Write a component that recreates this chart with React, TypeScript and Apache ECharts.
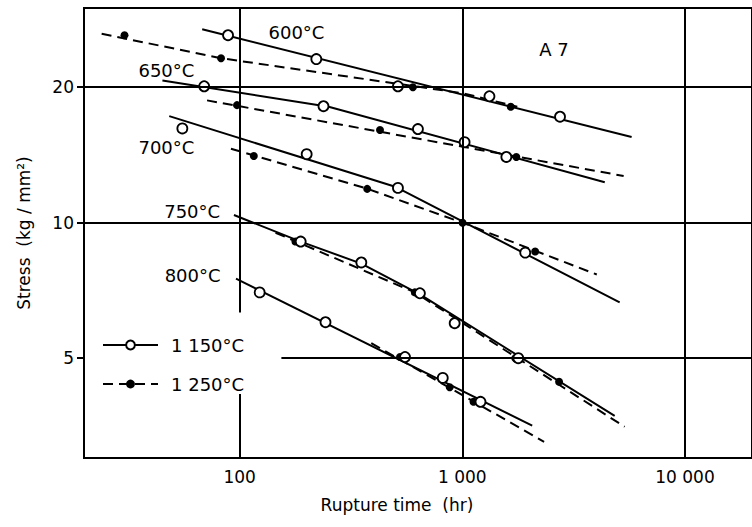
import React, { useEffect, useRef } from 'react';
import * as echarts from 'echarts';

const FONT = '"DejaVu Sans", "Noto Sans", sans-serif';

// Axis ticks
const xTicks = [100, 1000, 10000];
const xTickLabels = ['100', '1 000', '10 000'];
const yTicks = [5, 10, 20];

// Temperature labels [rupture time, stress, text]
const tempLabels: [number, number, string][] = [
  [180, 26.5, '600°C'],
  [46.9, 21.8, '650°C'],
  [46.9, 14.7, '700°C'],
  [61.2, 10.57, '750°C'],
  [61.5, 7.63, '800°C'],
];
const specimenLabel: [number, number, string] = [2583, 24.3, 'A 7'];

// 600°C
const solid600 = [[67.9, 26.9], [5760, 15.5]];
const open600 = [[88.7, 26.1], [221, 23.1], [514, 20.1], [1324, 19.1], [2747, 17.2]];
const dash600 = [[24.0, 26.3], [82.5, 23.2], [1003, 19.4], [1766, 18.1]];
const filled600 = [[30.4, 26.1], [82.5, 23.2], [600, 20.0], [1650, 18.1]];

// 650°C
const solid650 = [[45.0, 20.7], [251, 18.1], [4363, 12.3]];
const open650 = [[69.3, 20.1], [238, 18.15], [632, 16.15], [1024, 15.1], [1577, 14.0]];
const dash650 = [[71.4, 18.7], [5304, 12.7]];
const filled650 = [[97.3, 18.25], [427, 16.07], [1748, 14.0]];

// 700°C
const solid700 = [[48.3, 17.25], [504, 12.0], [5090, 6.65]];
const open700 = [[55.3, 16.2], [200, 14.2], [514, 11.95], [1917, 8.58]];
const dash700 = [[91.4, 14.6], [374, 11.9], [1003, 10.0], [4018, 7.67]];
const filled700 = [[115.8, 14.07], [374, 11.89], [1003, 10.0], [2124, 8.63]];

// 750°C
const solid750 = [[94.3, 10.4], [188, 9.08], [352, 8.11], [645, 6.93], [4834, 3.72]];
const open750 = [[188, 9.08], [352, 8.16], [645, 6.97], [924, 5.98], [1784, 5.0]];
const dash750 = [[145, 9.5], [612, 7.0], [5358, 3.52]];
const filled750 = [[178, 9.08], [612, 7.0], [1729, 5.0], [2720, 4.43]];

// 800°C
const solid800 = [[96.3, 7.51], [2060, 3.54]];
const open800 = [[123, 7.0], [243, 6.01], [553, 5.03], [817, 4.52], [1207, 4.0]];
const dash800 = [[390, 5.4], [2330, 3.26]];
const filled800 = [[525, 5.03], [878, 4.31], [1123, 4.0]];

// Grid lines (data space): horizontal [stress, fromTime, toTime], vertical [time, fromStress, toStress]
const gridH: [number, number, number][] = [
  [20, 20, 20000],
  [10, 20, 20000],
  [5, 154, 20000],
];
const gridV: [number, number, number][] = [
  [100, 30, 6.32],
  [100, 4.16, 3],
  [1000, 30, 3],
  [10000, 30, 3],
];

const groups = [
  { t: '600', solid: solid600, open: open600, dash: dash600, filled: filled600 },
  { t: '650', solid: solid650, open: open650, dash: dash650, filled: filled650 },
  { t: '700', solid: solid700, open: open700, dash: dash700, filled: filled700 },
  { t: '750', solid: solid750, open: open750, dash: dash750, filled: filled750 },
  { t: '800', solid: solid800, open: open800, dash: dash800, filled: filled800 },
];

const DASH = [10, 6];

function buildOption() {
  const series: any[] = [];
  series.push({
    name: 'gridlines',
    type: 'line',
    data: [],
    z: 1,
    silent: true,
    markLine: {
      silent: true,
      symbol: ['none', 'none'],
      label: { show: false },
      lineStyle: { color: '#000', width: 2, type: 'solid' },
      emphasis: { disabled: true },
      data: [
        ...gridH.map(([y, x1, x2]) => [{ coord: [x1, y] }, { coord: [x2, y] }]),
        ...gridV.map(([x, y1, y2]) => [{ coord: [x, y1] }, { coord: [x, y2] }]),
      ],
    },
  });
  series.push({
    name: '1 150°C',
    type: 'line',
    data: [],
    symbol: 'emptyCircle',
    symbolSize: 9,
    itemStyle: { color: '#000' },
    lineStyle: { color: '#000', width: 2, type: 'solid' },
  });
  series.push({
    name: '1 250°C',
    type: 'line',
    data: [],
    symbol: 'circle',
    symbolSize: 8,
    itemStyle: { color: '#000' },
    lineStyle: { color: '#000', width: 2, type: DASH },
  });
  groups.forEach((g) => {
    series.push({
      name: g.t + ' solid',
      type: 'line',
      data: g.solid,
      symbol: 'none',
      z: 2,
      silent: true,
      lineStyle: { color: '#000', width: 2 },
    });
    series.push({
      name: g.t + ' dashed',
      type: 'line',
      data: g.dash,
      symbol: 'none',
      z: 2,
      silent: true,
      lineStyle: { color: '#000', width: 2, type: DASH },
    });
    series.push({
      name: g.t + ' 1150',
      type: 'scatter',
      data: g.open,
      symbol: 'circle',
      symbolSize: 10,
      z: 4,
      silent: true,
      itemStyle: { color: '#fff', borderColor: '#000', borderWidth: 1.8, opacity: 1 },
    });
    series.push({
      name: g.t + ' 1250',
      type: 'scatter',
      data: g.filled,
      symbol: 'circle',
      symbolSize: 8,
      z: 3,
      silent: true,
      itemStyle: { color: '#000', opacity: 1 },
    });
  });
  series.push({
    name: 'labels',
    type: 'scatter',
    z: 5,
    silent: true,
    symbolSize: 1,
    itemStyle: { color: '#fff', opacity: 1 },
    data: [...tempLabels, specimenLabel].map(([x, y, s]) => ({ value: [x, y], name: s })),
    label: {
      show: true,
      position: 'inside',
      formatter: '{b}',
      color: '#000',
      opacity: 1,
      fontSize: 18,
      fontFamily: FONT,
    },
  });

  return {
    animation: false,
    backgroundColor: '#fff',
    textStyle: { fontFamily: FONT, color: '#000' },
    grid: {
      left: 84,
      top: 8,
      right: -3,
      bottom: 69,
      show: true,
      borderColor: '#000',
      borderWidth: 2,
      backgroundColor: 'transparent',
    },
    legend: {
      data: ['1 150°C', '1 250°C'],
      orient: 'vertical',
      left: 97,
      top: 331,
      itemWidth: 55,
      itemHeight: 11,
      itemGap: 21,
      selectedMode: false,
      textStyle: { fontSize: 18, color: '#000', fontFamily: FONT, padding: [0, 0, 0, 8] },
    },
    xAxis: {
      type: 'log',
      logBase: 10,
      min: 20,
      max: 20000,
      name: 'Rupture time  (hr)',
      nameLocation: 'middle',
      nameGap: 38,
      nameTextStyle: { fontSize: 17, color: '#000', fontFamily: FONT, padding: [0, 42, 0, 0] },
      axisLine: { show: false },
      axisTick: { show: false },
      splitLine: { show: false },
      minorSplitLine: { show: false },
      axisLabel: {
        customValues: xTicks,
        formatter: (v: number) => {
          const i = xTicks.findIndex((t) => Math.abs(t - v) / t < 1e-6);
          return i >= 0 ? xTickLabels[i] : '';
        },
        fontSize: 17,
        color: '#000',
        fontFamily: FONT,
        margin: 10,
      },
    },
    yAxis: {
      type: 'log',
      logBase: 10,
      min: 3,
      max: 30,
      name: 'Stress  (kg / mm²)',
      nameLocation: 'middle',
      nameGap: 52,
      nameTextStyle: { fontSize: 17, color: '#000', fontFamily: FONT },
      axisLine: { show: false },
      axisTick: {
        show: true,
        customValues: yTicks,
        length: 7,
        lineStyle: { color: '#000', width: 2 },
      },
      splitLine: { show: false },
      axisLabel: {
        customValues: yTicks,
        formatter: (v: number) => String(Math.round(v)),
        fontSize: 17,
        color: '#000',
        fontFamily: FONT,
        margin: 10,
      },
    },
    series,
  };
}

export default function App() {
  const ref = useRef<HTMLDivElement>(null);
  useEffect(() => {
    document.body.style.margin = '0';
    const chart = echarts.init(ref.current!, null, { renderer: 'svg' });
    chart.setOption(buildOption() as any);
    return () => chart.dispose();
  }, []);
  return <div ref={ref} style={{ width: 752, height: 527, background: '#fff' }} />;
}
